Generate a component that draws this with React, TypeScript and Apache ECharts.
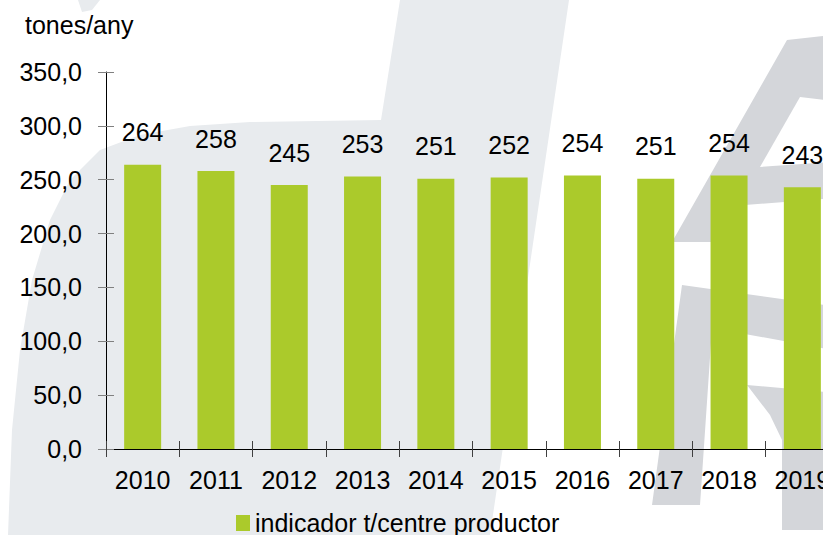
import React, { useEffect, useRef } from "react";
import * as echarts from "echarts";

const categories = ["2010", "2011", "2012", "2013", "2014", "2015", "2016", "2017", "2018", "2019"];
const values = [264, 258, 245, 253, 251, 252, 254, 251, 254, 243];
const seriesName = "indicador t/centre productor";
const unitLabel = "tones/any";

const FONT = "'Liberation Sans', Arial, sans-serif";
const GREEN = "#abca2b";
const LIGHT = "#e8ebee";
const MID = "#d4d6da";
const FS = 25;

export default function App() {
  const ref = useRef<HTMLDivElement>(null);
  useEffect(() => {
    if (!ref.current) return;
    const chart = echarts.init(ref.current, null, { renderer: "svg" });
    const yBase = {
      type: "value",
      min: 0,
      max: 350,
      interval: 50,
      splitLine: { show: false },
    };
    const xBase = {
      type: "category",
      data: categories,
      boundaryGap: true,
    };
    const bg = (points: number[][], fill: string, z = -10) => ({
      type: "polygon",
      z,
      silent: true,
      shape: { points },
      style: { fill },
    });
    chart.setOption({
      animation: false,
      backgroundColor: "#ffffff",
      textStyle: { fontFamily: FONT },
      title: {
        text: unitLabel,
        left: 20,
        top: 7,
        textStyle: { fontFamily: FONT, fontSize: FS, fontWeight: "normal", color: "#000" },
      },
      graphic: [
        bg(
          [
            [400, 0], [569, 0], [490, 535], [8, 535], [12, 430], [20, 350], [32, 280],
            [50, 220], [70, 180], [100, 150], [140, 135], [190, 126], [250, 122], [381, 120],
          ],
          LIGHT
        ),
        bg([[78, 0], [100, 0], [92, 10], [82, 12]], LIGHT),
        bg([[787, 40], [860, 32], [860, 196], [745, 205], [712, 242], [672, 242]], MID),
        bg([[800, 97], [860, 104], [860, 160], [760, 167]], "#ffffff", -9),
        bg([[682, 285], [860, 310], [860, 355], [712, 328], [700, 505], [652, 505]], MID),
        bg([[747, 385], [860, 395], [860, 530], [782, 530], [782, 440], [770, 415]], MID),
      ],
      legend: {
        data: [seriesName],
        left: 231,
        top: 505,
        icon: "rect",
        itemWidth: 14,
        itemHeight: 16,
        textStyle: { fontFamily: FONT, fontSize: FS, color: "#000", lineHeight: 26 },
      },
      grid: { left: 106, top: 72, width: 733, height: 377, containLabel: false },
      xAxis: [
        {
          ...xBase,
          axisLine: { show: true, lineStyle: { color: "#000", width: 1.2 } },
          axisTick: { show: true, length: 8, lineStyle: { color: "#404040" } },
          axisLabel: { color: "#000", fontSize: FS, fontFamily: FONT, margin: 18 },
        },
        {
          ...xBase,
          position: "bottom",
          offset: 0,
          axisLine: { show: false },
          axisTick: { show: true, inside: true, length: 8, lineStyle: { color: "#404040" } },
          axisLabel: { show: false },
        },
      ],
      yAxis: [
        {
          ...yBase,
          position: "left",
          axisLine: { show: true, lineStyle: { color: "#000", width: 1 } },
          axisTick: { show: true, length: 8, lineStyle: { color: "#808080" } },
          axisLabel: {
            color: "#000",
            fontSize: FS,
            fontFamily: FONT,
            margin: 24,
            formatter: (v: number) => v.toFixed(1).replace(".", ","),
          },
        },
        {
          ...yBase,
          position: "left",
          offset: 0,
          axisLine: { show: false },
          axisTick: { show: true, inside: true, length: 8, lineStyle: { color: "#808080" } },
          axisLabel: { show: false },
        },
      ],
      series: [
        {
          name: seriesName,
          type: "bar",
          data: values,
          barWidth: 37,
          itemStyle: { color: GREEN },
          label: {
            show: true,
            position: "top",
            distance: 20,
            color: "#000",
            fontSize: FS,
            fontFamily: FONT,
          },
        },
      ],
    });
    return () => chart.dispose();
  }, []);
  return (
    <div
      style={{
        position: "fixed",
        left: 0,
        top: 0,
        width: 823,
        height: 535,
        overflow: "hidden",
        background: "#fff",
      }}
    >
      <div ref={ref} style={{ width: 860, height: 535 }} />
    </div>
  );
}
